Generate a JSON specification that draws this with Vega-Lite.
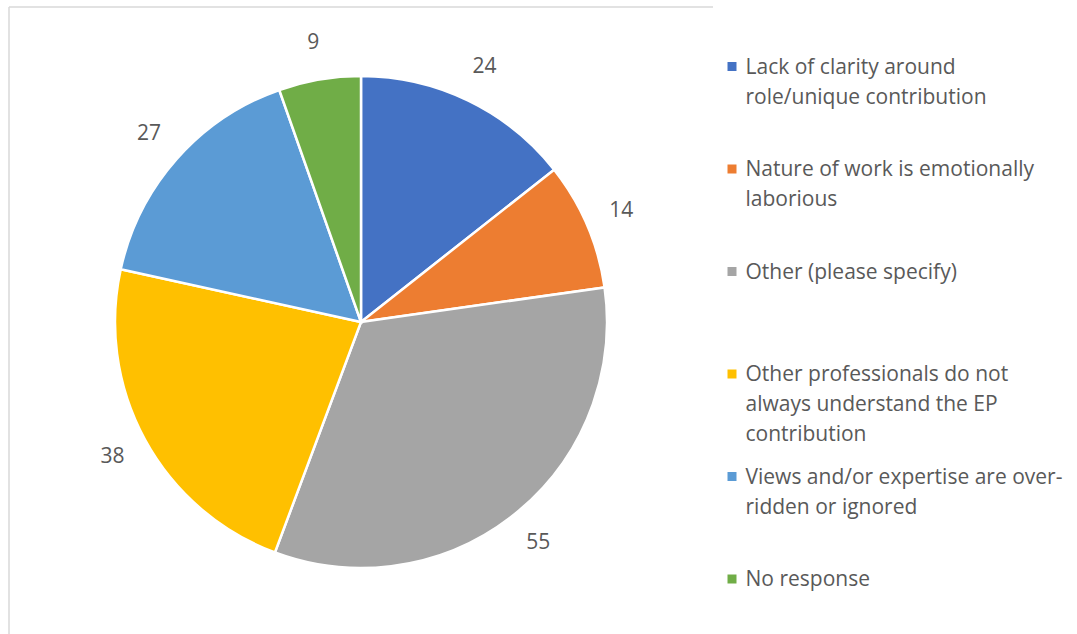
{
  "$schema": "https://vega.github.io/schema/vega-lite/v6.json",
  "width": 704,
  "height": 630,
  "autosize": "none",
  "padding": {"left": 9, "top": 7, "right": 364, "bottom": 0},
  "background": "white",
  "view": {"stroke": "#d9d9d9", "strokeWidth": 1.5, "strokeDash": [704, 1334, 630, 0]},
  "config": {
    "view": {"stroke": "#d9d9d9", "strokeWidth": 1.5, "strokeDash": [704, 1334, 630, 0]},
    "font": "Open Sans"
  },
  "data": {
    "values": [
      {"order": 1, "category": "Lack of clarity around role/unique contribution", "count": 24},
      {"order": 2, "category": "Nature of work is emotionally laborious", "count": 14},
      {"order": 3, "category": "Other (please specify)", "count": 55},
      {"order": 4, "category": "Other professionals do not always understand the EP contribution", "count": 38},
      {"order": 5, "category": "Views and/or expertise are over-ridden or ignored", "count": 27},
      {"order": 6, "category": "No response", "count": 9}
    ]
  },
  "encoding": {
    "theta": {"field": "count", "type": "quantitative", "stack": true},
    "order": {"field": "order", "type": "quantitative"}
  },
  "layer": [
    {
      "mark": {"type": "arc", "outerRadius": 246, "stroke": "white", "strokeWidth": 2.5},
      "encoding": {
        "color": {
          "field": "category",
          "type": "nominal",
          "scale": {
            "domain": [
              "Lack of clarity around role/unique contribution",
              "Nature of work is emotionally laborious",
              "Other (please specify)",
              "Other professionals do not always understand the EP contribution",
              "Views and/or expertise are over-ridden or ignored",
              "No response"
            ],
            "range": ["#4472C4", "#ED7D31", "#A5A5A5", "#FFC000", "#5B9BD5", "#70AD47"]
          },
          "legend": {
            "title": null,
            "orient": "none",
            "legendX": 712.5,
            "legendY": 49,
            "padding": 0,
            "symbolType": "square",
            "symbolSize": 81,
            "symbolStrokeWidth": 0,
            "labelFont": "Open Sans",
            "labelFontSize": 21,
            "labelColor": "#595959",
            "labelLimit": 400,
            "labelOffset": 3,
            "labelBaseline": "top",
            "rowPadding": 20.5,
            "labelExpr": "datum.label == 'Lack of clarity around role/unique contribution' ? ['Lack of clarity around', 'role/unique contribution', ' '] : datum.label == 'Nature of work is emotionally laborious' ? ['Nature of work is emotionally', 'laborious', ' '] : datum.label == 'Other (please specify)' ? ['Other (please specify)', ' ', ' '] : datum.label == 'Other professionals do not always understand the EP contribution' ? ['Other professionals do not', 'always understand the EP', 'contribution'] : datum.label == 'Views and/or expertise are over-ridden or ignored' ? ['Views and/or expertise are over-', 'ridden or ignored', ' '] : ['No response', ' ', ' ']",
            "encoding": {
              "labels": {"dy": {"value": -10}, "lineHeight": {"value": 30}},
              "symbols": {"strokeWidth": {"value": 0}}
            }
          }
        }
      }
    },
    {
      "mark": {"type": "text", "radius": 283, "fontSize": 21, "font": "Open Sans", "align": "center", "baseline": "middle"},
      "encoding": {
        "text": {"field": "count", "type": "quantitative"},
        "color": {"value": "#595959"}
      }
    }
  ]
}
